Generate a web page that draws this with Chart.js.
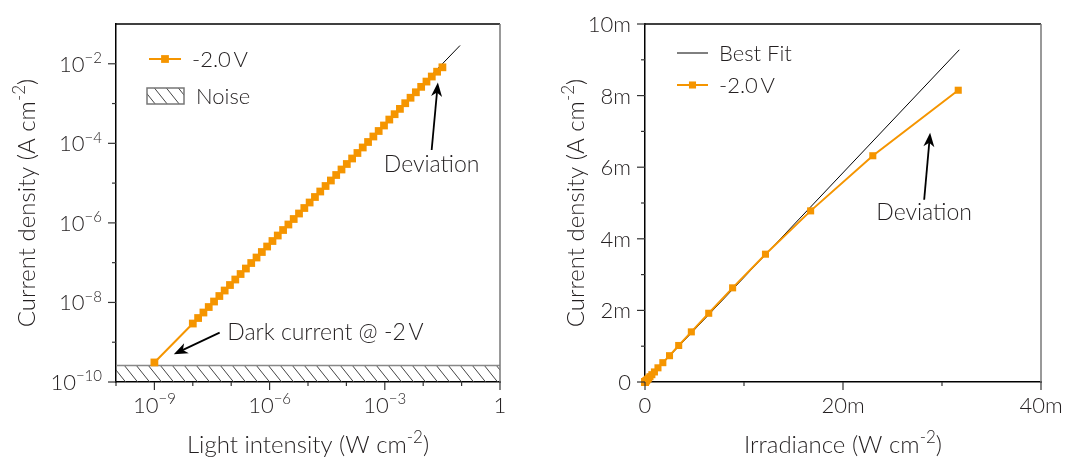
<!DOCTYPE html>
<html>
<head>
<meta charset="utf-8">
<script src="https://cdn.jsdelivr.net/npm/chart.js@4.4.0/dist/chart.umd.min.js"></script>
<style>
  html, body { margin: 0; padding: 0; background: #fff; }
  #wrap { position: relative; width: 1072px; height: 458px; overflow: hidden; }
  .box { position: absolute; top: 0; width: 536px; height: 458px; }
</style>
</head>
<body>
<div id="wrap">
  <div class="box" style="left:0"><canvas id="left" width="536" height="458"></canvas></div>
  <div class="box" style="left:536px"><canvas id="right" width="536" height="458"></canvas></div>
</div>
<script>
// light intensity / irradiance (W cm^-2)
const intensity = [
  1e-9,
  1.00e-8, 1.375e-8, 1.891e-8, 2.600e-8, 3.575e-8, 4.915e-8, 6.758e-8, 9.292e-8,
  1.278e-7, 1.757e-7, 2.415e-7, 3.321e-7, 4.566e-7, 6.280e-7, 8.630e-7,
  1.187e-6, 1.632e-6, 2.244e-6, 3.086e-6, 4.243e-6, 5.834e-6, 8.022e-6,
  1.103e-5, 1.517e-5, 2.085e-5, 2.867e-5, 3.943e-5, 5.421e-5, 7.454e-5,
  1.025e-4, 1.409e-4, 1.938e-4, 2.665e-4, 3.664e-4, 5.038e-4, 6.927e-4, 9.525e-4,
  1.310e-3, 1.801e-3, 2.476e-3, 3.404e-3, 4.681e-3, 6.437e-3, 8.851e-3,
  1.217e-2, 1.673e-2, 2.301e-2, 3.164e-2
];
// current density at -2.0 V (A cm^-2)
const currentDensity = [
  3.1e-10,
  2.95e-9, 4.06e-9, 5.58e-9, 7.67e-9, 1.055e-8, 1.450e-8, 1.994e-8, 2.741e-8,
  3.770e-8, 5.183e-8, 7.124e-8, 9.797e-8, 1.347e-7, 1.853e-7, 2.546e-7,
  3.502e-7, 4.814e-7, 6.620e-7, 9.104e-7, 1.252e-6, 1.721e-6, 2.366e-6,
  3.254e-6, 4.475e-6, 6.151e-6, 8.458e-6, 1.163e-5, 1.599e-5, 2.199e-5,
  3.024e-5, 4.157e-5, 5.717e-5, 7.862e-5, 1.081e-4, 1.486e-4, 2.043e-4, 2.810e-4,
  3.96e-4, 5.40e-4, 7.35e-4, 1.02e-3, 1.40e-3, 1.92e-3, 2.63e-3,
  3.57e-3, 4.78e-3, 6.32e-3, 8.15e-3
];
// best fit lines
const fitLogX = [1e-8, 0.091];
const fitLogY = [3.0e-9, 0.0288];
const fitLinX = [0, 0.03175];
const fitLinY = [0, 0.00928];
// noise floor band
const noiseX = [1e-10, 1];
const noiseLevel = 2.6e-10;

// ticks
const leftXMajor = [1e-9, 1e-6, 1e-3, 1];
const leftXLabels = ['10^−9', '10^−6', '10^−3', '1'];
const leftXMinor = [1e-10, 1e-8, 1e-7, 1e-5, 1e-4, 1e-2, 1e-1];
const leftYMajor = [1e-10, 1e-8, 1e-6, 1e-4, 1e-2];
const leftYLabels = ['10^−10', '10^−8', '10^−6', '10^−4', '10^−2'];
const leftYMinor = [1e-9, 1e-7, 1e-5, 1e-3];
const rightXMajor = [0, 0.02, 0.04];
const rightXLabels = ['0', '20m', '40m'];
const rightXMinor = [0.01, 0.03];
const rightYMajor = [0, 0.002, 0.004, 0.006, 0.008, 0.01];
const rightYLabels = ['0', '2m', '4m', '6m', '8m', '10m'];
const rightYMinor = [0.001, 0.003, 0.005, 0.007, 0.009];

const FONT = 'Lato, "Open Sans", sans-serif';
const INK = '#231f20';
const ORANGE = '#f59500';

function hatchPattern(ctx) {
  const c = document.createElement('canvas');
  c.width = 12; c.height = 15;
  const g = c.getContext('2d');
  g.strokeStyle = '#444';
  g.lineWidth = 1;
  g.beginPath();
  [-12, 0, 12].forEach(o => { g.moveTo(o, 0); g.lineTo(o + 12, 15); });
  g.stroke();
  return ctx.createPattern(c, 'repeat');
}

function parts(label) {
  const i = label.indexOf('^');
  return i < 0 ? [[label, false]] : [[label.slice(0, i), false], [label.slice(i + 1), true]];
}

// draw text with superscript pieces, y = baseline
function supText(ctx, x, y, pieces, size, align) {
  const big = `300 ${size}px ${FONT}`;
  const small = `300 ${Math.round(size * 0.7)}px ${FONT}`;
  let w = 0;
  pieces.forEach(([t, s]) => { ctx.font = s ? small : big; w += ctx.measureText(t).width; });
  let cx = align === 'right' ? x - w : align === 'center' ? x - w / 2 : x;
  ctx.textAlign = 'left';
  ctx.textBaseline = 'alphabetic';
  pieces.forEach(([t, s]) => {
    ctx.font = s ? small : big;
    ctx.fillText(t, cx, s ? y - size * 0.4 : y);
    cx += ctx.measureText(t).width;
  });
}

function arrow(ctx, x0, y0, x1, y1) {
  const dx = x1 - x0, dy = y1 - y0, L = Math.hypot(dx, dy);
  const ux = dx / L, uy = dy / L, px = -uy, py = ux;
  const hl = 14, hw = 5.5;
  ctx.beginPath();
  ctx.moveTo(x0, y0);
  ctx.lineTo(x1 - ux * 9, y1 - uy * 9);
  ctx.lineWidth = 1.8;
  ctx.strokeStyle = '#000';
  ctx.stroke();
  ctx.beginPath();
  ctx.moveTo(x1, y1);
  ctx.lineTo(x1 - ux * hl + px * hw, y1 - uy * hl + py * hw);
  ctx.lineTo(x1 - ux * 10, y1 - uy * 10);
  ctx.lineTo(x1 - ux * hl - px * hw, y1 - uy * hl - py * hw);
  ctx.closePath();
  ctx.fillStyle = '#000';
  ctx.fill();
}

const decor = {
  id: 'decor',
  afterDatasetsDraw(chart, args, o) {
    const { ctx, chartArea: a, scales: { x, y } } = chart;
    ctx.save();

    // top and right frame
    ctx.lineWidth = 1.5;
    ctx.strokeStyle = '#000';
    ctx.beginPath(); ctx.moveTo(a.left, a.top); ctx.lineTo(a.right, a.top); ctx.stroke();
    ctx.strokeStyle = '#777';
    ctx.beginPath(); ctx.moveTo(a.right, a.top); ctx.lineTo(a.right, a.bottom + 0.75); ctx.stroke();

    // tick marks, outward
    ctx.lineWidth = 1.2;
    ctx.strokeStyle = '#333';
    const tx = (vals, len) => vals.forEach(v => {
      const p = x.getPixelForValue(v);
      ctx.beginPath(); ctx.moveTo(p, a.bottom); ctx.lineTo(p, a.bottom + len); ctx.stroke();
    });
    const ty = (vals, len) => vals.forEach(v => {
      const p = y.getPixelForValue(v);
      ctx.beginPath(); ctx.moveTo(a.left, p); ctx.lineTo(a.left - len, p); ctx.stroke();
    });
    tx(o.xMajor, 8); tx(o.xMinor, 4);
    ty(o.yMajor, 8); ty(o.yMinor, 4);

    // tick labels
    ctx.fillStyle = INK;
    o.xMajor.forEach((v, i) => supText(ctx, x.getPixelForValue(v), a.bottom + 31, parts(o.xLabels[i]), 22, 'center'));
    o.yMajor.forEach((v, i) => supText(ctx, a.left - 14, y.getPixelForValue(v) + 8, parts(o.yLabels[i]), 22, 'right'));

    // axis titles
    supText(ctx, (a.left + a.right) / 2, 453, o.xTitle, 24, 'center');
    ctx.save();
    ctx.translate(a.left - o.yTitleGap, (a.top + a.bottom) / 2);
    ctx.rotate(-Math.PI / 2);
    supText(ctx, 0, 9, o.yTitle, 24, 'center');
    ctx.restore();

    // legend
    const ds = chart.data.datasets;
    o.legend.forEach(e => {
      const d = ds[e.ds];
      const cy = a.top + e.y;
      if (e.kind === 'hatch') {
        ctx.fillStyle = d.backgroundColor;
        ctx.fillRect(a.left + e.x0, cy - 8, e.x1 - e.x0, 16);
        ctx.strokeStyle = '#777';
        ctx.lineWidth = 1.5;
        ctx.strokeRect(a.left + e.x0, cy - 8, e.x1 - e.x0, 16);
      } else {
        ctx.strokeStyle = d.borderColor;
        ctx.lineWidth = d.borderWidth;
        ctx.beginPath(); ctx.moveTo(a.left + e.x0, cy); ctx.lineTo(a.left + e.x1, cy); ctx.stroke();
        if (d.pointRadius) {
          const s = d.pointRadius * Math.SQRT1_2;
          ctx.fillStyle = d.pointBackgroundColor;
          ctx.fillRect(a.left + (e.x0 + e.x1) / 2 - s, cy - s, 2 * s, 2 * s);
        }
      }
      ctx.fillStyle = INK;
      ctx.font = `300 22px ${FONT}`;
      ctx.textAlign = 'left';
      ctx.textBaseline = 'middle';
      ctx.fillText(d.label, a.left + e.tx, cy + 1);
    });

    // annotations
    o.notes.forEach(n => {
      ctx.fillStyle = INK;
      ctx.font = `300 23px ${FONT}`;
      ctx.textAlign = n.align;
      ctx.textBaseline = 'middle';
      ctx.fillText(n.text, x.getPixelForValue(n.x), y.getPixelForValue(n.y));
    });
    o.arrows.forEach(r => arrow(ctx,
      x.getPixelForValue(r.from[0]), y.getPixelForValue(r.from[1]),
      x.getPixelForValue(r.to[0]), y.getPixelForValue(r.to[1])));

    ctx.restore();
  }
};

function pts(xs, ys) { return xs.map((v, i) => ({ x: v, y: ys[i] })); }

function axis(type, min, max, size, isY) {
  return {
    type, min, max,
    grid: { display: false },
    ticks: { display: false },
    border: { display: true, color: '#000', width: 1.5 },
    afterFit(s) { if (isY) s.width = size; else s.height = size; }
  };
}

const leftCtx = document.getElementById('left').getContext('2d');
new Chart(leftCtx, {
  type: 'line',
  data: {
    datasets: [
      {
        label: '-2.0\u2009V',
        data: pts(intensity, currentDensity),
        borderColor: ORANGE, borderWidth: 2,
        pointStyle: 'rect', pointRadius: 5.5, pointBorderWidth: 0,
        pointBackgroundColor: ORANGE,
        tension: 0
      },
      {
        label: 'Best Fit',
        data: pts(fitLogX, fitLogY),
        borderColor: '#000', borderWidth: 1, pointRadius: 0
      },
      {
        label: 'Noise',
        data: pts(noiseX, noiseX.map(() => noiseLevel)),
        borderColor: '#888', borderWidth: 1.5, pointRadius: 0,
        backgroundColor: hatchPattern(leftCtx),
        fill: 'start'
      }
    ]
  },
  options: {
    responsive: false,
    animation: false,
    layout: { padding: { top: 24, right: 36, left: 0, bottom: 0 } },
    scales: {
      x: axis('logarithmic', 1e-10, 1, 76, false),
      y: axis('logarithmic', 1e-10, 0.1, 116, true)
    },
    plugins: {
      legend: { display: false },
      tooltip: { enabled: false },
      decor: {
        xMajor: leftXMajor, xLabels: leftXLabels, xMinor: leftXMinor,
        yMajor: leftYMajor, yLabels: leftYLabels, yMinor: leftYMinor,
        xTitle: [['Light intensity (W cm', false], ['-2', true], [')', false]],
        yTitle: [['Current density (A cm', false], ['-2', true], [')', false]],
        yTitleGap: 90,
        legend: [
          { ds: 0, kind: 'line', x0: 33, x1: 65, y: 35, tx: 76 },
          { ds: 2, kind: 'hatch', x0: 31, x1: 68, y: 72, tx: 80 }
        ],
        notes: [
          { text: 'Deviation', x: 0.0166, y: 3.0e-5, align: 'center' },
          { text: 'Dark current @ -2\u2009V', x: 7.9e-8, y: 1.74e-9, align: 'left' }
        ],
        arrows: [
          { from: [0.0166, 6.8e-5], to: [0.0241, 3.36e-3] },
          { from: [5.0e-8, 1.74e-9], to: [3.2e-9, 5.0e-10] }
        ]
      }
    }
  },
  plugins: [decor]
});

new Chart(document.getElementById('right'), {
  type: 'line',
  data: {
    datasets: [
      {
        label: '-2.0\u2009V',
        data: pts(intensity, currentDensity),
        borderColor: ORANGE, borderWidth: 2,
        pointStyle: 'rect', pointRadius: 5, pointBorderWidth: 0,
        pointBackgroundColor: ORANGE,
        clip: false
      },
      {
        label: 'Best Fit',
        data: pts(fitLinX, fitLinY),
        borderColor: '#000', borderWidth: 1, pointRadius: 0
      }
    ]
  },
  options: {
    responsive: false,
    animation: false,
    layout: { padding: { top: 24, right: 31, left: 0, bottom: 0 } },
    scales: {
      x: axis('linear', 0, 0.04, 76, false),
      y: axis('linear', 0, 0.01, 109, true)
    },
    plugins: {
      legend: { display: false },
      tooltip: { enabled: false },
      decor: {
        xMajor: rightXMajor, xLabels: rightXLabels, xMinor: rightXMinor,
        yMajor: rightYMajor, yLabels: rightYLabels, yMinor: rightYMinor,
        xTitle: [['Irradiance (W cm', false], ['-2', true], [')', false]],
        yTitle: [['Current density (A cm', false], ['-2', true], [')', false]],
        yTitleGap: 70,
        legend: [
          { ds: 1, kind: 'line', x0: 32, x1: 63, y: 29, tx: 74 },
          { ds: 0, kind: 'line', x0: 32, x1: 63, y: 61, tx: 74 }
        ],
        notes: [
          { text: 'Deviation', x: 0.0282, y: 0.00472, align: 'center' }
        ],
        arrows: [
          { from: [0.0282, 0.00509], to: [0.0288, 0.00696] }
        ]
      }
    }
  },
  plugins: [decor]
});
</script>
</body>
</html>
